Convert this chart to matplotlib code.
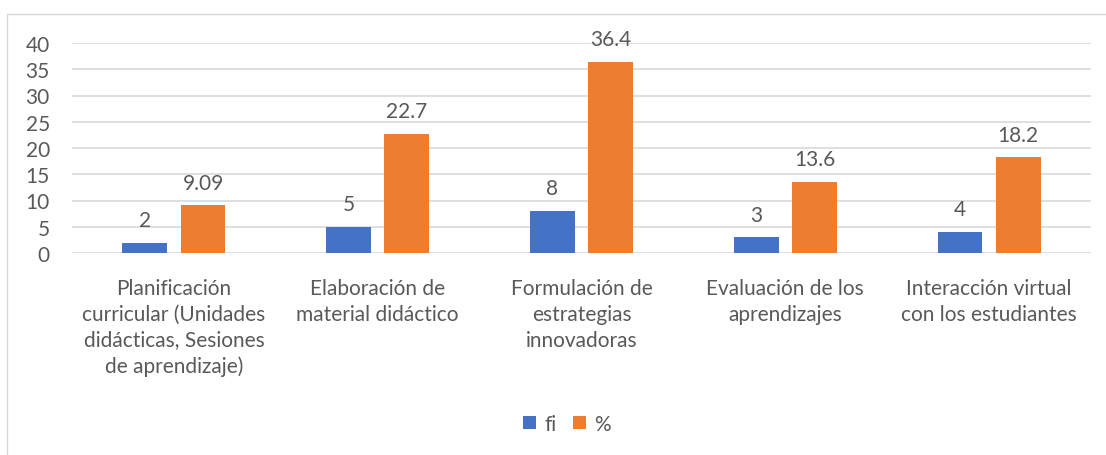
import numpy as np
import matplotlib.pyplot as plt
from matplotlib.patches import Rectangle

categories = ['Planificación\ncurricular (Unidades\ndidácticas, Sesiones\nde aprendizaje)',
              'Elaboración de\nmaterial didáctico',
              'Formulación de\nestrategias\ninnovadoras',
              'Evaluación de los\naprendizajes',
              'Interacción virtual\ncon los estudiantes']
fi = [2, 5, 8, 3, 4]
pct = [9.09, 22.7, 36.4, 13.6, 18.2]
pct_labels = ['9.09', '22.7', '36.4', '13.6', '18.2']

plt.rcParams['font.family'] = ['Lato', 'DejaVu Sans']
txt = '#595959'
grid = '#d9d9d9'
fs = 15

fig = plt.figure(figsize=(11.06, 4.56), dpi=100)
fig.patches.append(Rectangle((7/1106, -0.1), 1.2, 1 - 15/456 + 0.1, transform=fig.transFigure,
                             fill=False, edgecolor=grid, lw=1))
ax = fig.add_axes([72/1106, 1 - 254/456, (1091 - 72)/1106, 210/456])

x = np.arange(len(categories))
w = 0.22
b1 = ax.bar(x - 0.143, fi, w, color='#4472C4', label='fi', zorder=3)
b2 = ax.bar(x + 0.143, pct, w, color='#ED7D31', label='%', zorder=3)

# data labels above bars
for xi, v in zip(x, fi):
    ax.annotate(str(v), (xi - 0.143, v), xytext=(0, 12), textcoords='offset points',
                ha='center', va='baseline', fontsize=fs, color=txt)
for xi, v, s in zip(x, pct, pct_labels):
    ax.annotate(s, (xi + 0.143, v), xytext=(0, 12), textcoords='offset points',
                ha='center', va='baseline', fontsize=fs, color=txt)

ax.set_xlim(-0.5, 4.5)
ax.set_ylim(0, 40)
ax.set_yticks(range(0, 41, 5))
ax.yaxis.grid(True, color=grid, lw=1.2, zorder=0)
ax.set_axisbelow(True)
for s in ax.spines.values():
    s.set_visible(False)
ax.tick_params(axis='both', length=0, labelsize=fs, labelcolor=txt)
ax.tick_params(axis='y', pad=16)
ax.set_xticks(x)
ax.set_xticklabels(categories, linespacing=1.36)
ax.tick_params(axis='x', pad=18)

fig.legend(handles=[b1, b2], labels=['fi', '%'], loc='center', bbox_to_anchor=(567/1106, 1 - 425/456),
           ncol=2, frameon=False, fontsize=fs, labelcolor=txt, handlelength=0.6, handleheight=0.6,
           handletextpad=0.4, columnspacing=0.8)

fig.savefig('out.png', dpi=100)
